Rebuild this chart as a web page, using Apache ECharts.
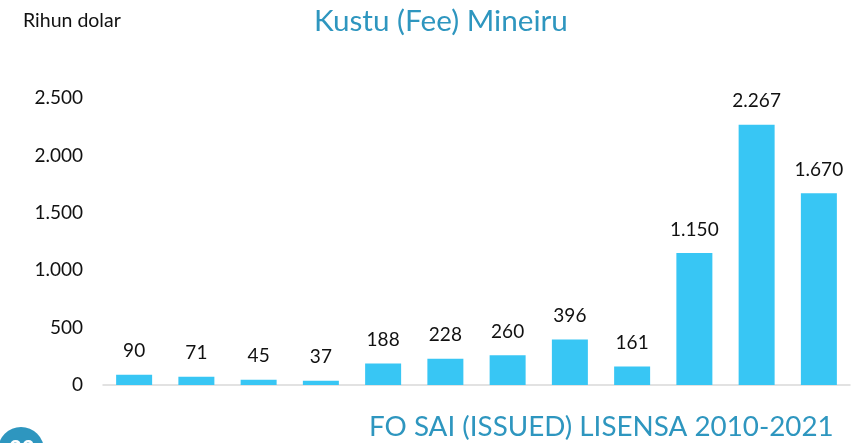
<!DOCTYPE html>
<html><head><meta charset="utf-8">
<style>html,body{margin:0;padding:0;background:#fff}#c{width:855px;height:443px}</style>
<script src="https://cdn.jsdelivr.net/npm/echarts@6/dist/echarts.min.js"></script></head>
<body><div id="c"></div>
<script>
const categories = ['2010','2011','2012','2013','2014','2015','2016','2017','2018','2019','2020','2021'];
const values = [90,71,45,37,188,228,260,396,161,1150,2267,1670];
const valueLabels = ['90','71','45','37','188','228','260','396','161','1.150','2.267','1.670'];
const font = 'Lato,"Noto Sans",sans-serif';
const chart = echarts.init(document.getElementById('c'), null, {renderer:'canvas'});
chart.setOption({
  animation:false,
  backgroundColor:'#fff',
  grid:{left:103,right:5,top:98,bottom:58,containLabel:false},
  xAxis:{type:'category',data:categories,axisLabel:{show:false},axisTick:{show:false},
    axisLine:{lineStyle:{color:'#D9D9D9',width:1.5}}},
  yAxis:{type:'value',min:0,max:2500,interval:500,splitLine:{show:false},axisLine:{show:false},axisTick:{show:false},
    axisLabel:{fontFamily:font,fontSize:19,color:'#111',margin:20,formatter:v=>String(v).replace(/\B(?=(\d{3})+$)/g,'.')}},
  series:[{type:'bar',data:values,barWidth:36,itemStyle:{color:'#38C6F4'},
    label:{show:true,position:'top',distance:14,fontFamily:font,fontSize:19,color:'#111',
      formatter:p=>valueLabels[p.dataIndex]}}],
  graphic:[
    {type:'text',left:23,top:11,style:{text:'Rihun dolar',fontFamily:font,fontSize:19.5,fill:'#111'}},
    {type:'text',left:314,top:6,style:{text:'Kustu (Fee) Mineiru',fontFamily:font,fontSize:29.7,fill:'#2E96BF'}},
    {type:'text',left:369,top:413,style:{text:'FO SAI (ISSUED) LISENSA 2010-2021',fontFamily:font,fontSize:27.8,fill:'#2E96BF'}},
    {type:'circle',shape:{cx:21,cy:450,r:23},style:{fill:'#2E96BF'}},
    {type:'text',left:9,top:439,style:{text:'33',fontFamily:font,fontWeight:'bold',fontSize:22,fill:'#fff'}}
  ]
});
</script></body></html>
